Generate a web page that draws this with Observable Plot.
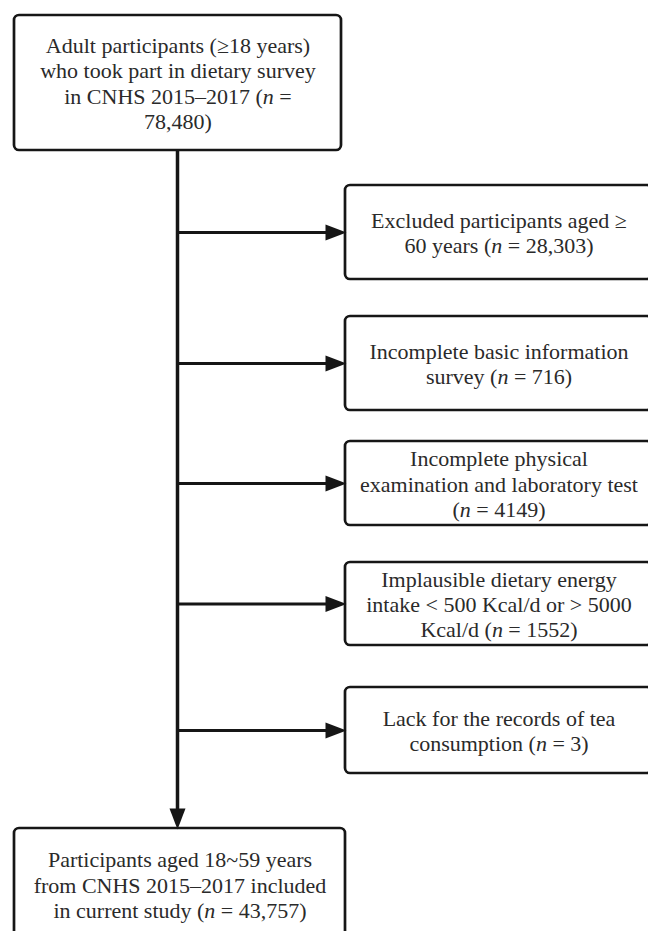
<!DOCTYPE html>
<html>
<head>
<meta charset="utf-8">
<script src="https://cdn.jsdelivr.net/npm/d3@7"></script>
<script src="https://cdn.jsdelivr.net/npm/@observablehq/plot@0.6"></script>
<style>
  html, body { margin: 0; padding: 0; background: #fff; overflow: hidden; }
  svg text { font-family: "Liberation Serif", "Times New Roman", serif !important; }
</style>
</head>
<body>
<div id="chart"></div>
<script>
// ---- Data: box texts (lines as in the reference) ----
const startLines = [
  "Adult participants (≥18 years)",
  "who took part in dietary survey",
  "in CNHS 2015–2017 (n =",
  "78,480)"
];
const exclusionLines = [
  ["Excluded participants aged ≥", "60 years (n = 28,303)"],
  ["Incomplete basic information", "survey (n = 716)"],
  ["Incomplete physical", "examination and laboratory test", "(n = 4149)"],
  ["Implausible dietary energy", "intake < 500 Kcal/d or > 5000", "Kcal/d (n = 1552)"],
  ["Lack for the records of tea", "consumption (n = 3)"]
];
const finalLines = [
  "Participants aged 18~59 years",
  "from CNHS 2015–2017 included",
  "in current study (n = 43,757)"
];

// ---- Layout (flowchart geometry) ----
const trunkX = 177;
const startBox = {x1: 14, x2: 341, y1: 15, y2: 150};
const exclLeft = 345, exclRight = 652;
const exclTops = [185, 316, 441, 562, 687];
const exclBottoms = [279, 410, 525, 645, 773];
const finalBox = {x1: 14, x2: 345, y1: 828, y2: 940};

const boxes = [
  {...startBox, lines: startLines},
  ...exclusionLines.map((lines, i) => ({x1: exclLeft, x2: exclRight, y1: exclTops[i], y2: exclBottoms[i], lines})),
  {...finalBox, lines: finalLines}
];
const exclBoxes = boxes.slice(1, 1 + exclusionLines.length);
const branches = exclBoxes.map(b => ({x1: trunkX, x2: b.x1 - 12, y: (b.y1 + b.y2) / 2}));
const trunk = [{x1: trunkX, y1: startBox.y2, x2: trunkX, y2: finalBox.y1 - 12}];
const heads = [
  ...exclBoxes.map(b => ({x: b.x1, y: (b.y1 + b.y2) / 2, rot: 0})),
  {x: trunkX, y: finalBox.y1, rot: 90}
];

const ink = "#161616";
const arrowHead = {
  draw(ctx) {
    ctx.moveTo(1, 0);
    ctx.lineTo(-20, -8);
    ctx.lineTo(-20, 8);
    ctx.closePath();
  }
};

const chart = Plot.plot({
  width: 648,
  height: 931,
  margin: 0,
  x: {domain: [0, 648], range: [0, 648], axis: null},
  y: {domain: [0, 931], range: [0, 931], axis: null},
  style: {background: "#fff", fontFamily: "'Liberation Serif', 'Times New Roman', serif"},
  marks: [
    Plot.link(trunk, {x1: "x1", y1: "y1", x2: "x2", y2: "y2", stroke: ink, strokeWidth: 3.5}),
    Plot.link(branches, {x1: "x1", y1: "y", x2: "x2", y2: "y", stroke: ink, strokeWidth: 3.2}),
    Plot.rect(boxes, {x1: "x1", x2: "x2", y1: "y1", y2: "y2", fill: "#fff", stroke: ink, strokeWidth: 2.7, rx: 5}),
    Plot.dot(heads, {x: "x", y: "y", rotate: "rot", symbol: arrowHead, fill: ink, stroke: "none"}),
    Plot.text(boxes, {
      x: d => (d.x1 + d.x2) / 2,
      y: d => (d.y1 + d.y2) / 2,
      text: d => d.lines.join("\n"),
      fontSize: 22,
      lineHeight: 1.15,
      fontFamily: "Liberation Serif",
      fill: "#2a2a2a"
    })
  ]
});

// italicize the statistical "n"
const svgns = "http://www.w3.org/2000/svg";
function italicizeN(el) {
  for (const node of [...el.childNodes]) {
    if (node.nodeType === 3) {
      const s = node.nodeValue;
      const i = s.indexOf("(n ");
      if (i >= 0) {
        const t = document.createElementNS(svgns, "tspan");
        t.setAttribute("font-style", "italic");
        t.textContent = "n";
        el.insertBefore(document.createTextNode(s.slice(0, i + 1)), node);
        el.insertBefore(t, node);
        el.insertBefore(document.createTextNode(s.slice(i + 2)), node);
        el.removeChild(node);
      }
    } else if (node.nodeType === 1) {
      italicizeN(node);
    }
  }
}
chart.querySelectorAll("text").forEach(italicizeN);

document.getElementById("chart").appendChild(chart);
</script>
</body>
</html>
